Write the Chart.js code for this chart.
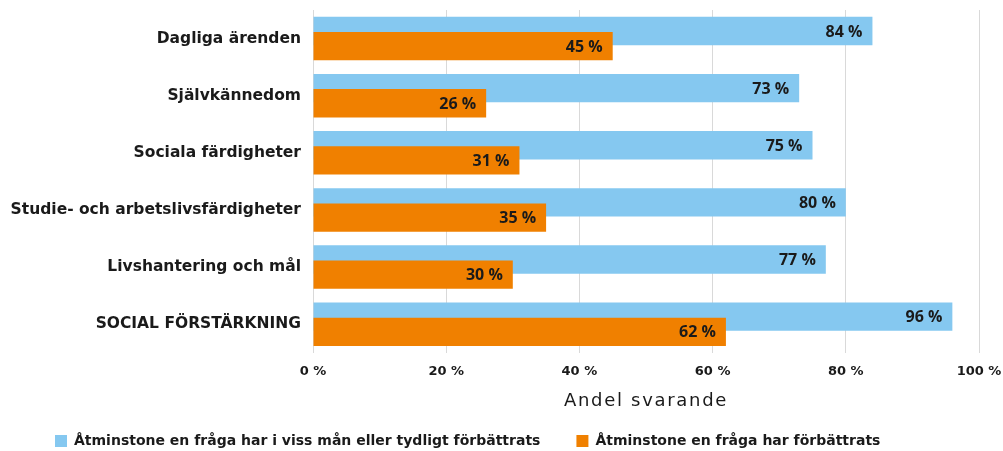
<!DOCTYPE html>
<html lang="sv">
<head>
    <meta charset="UTF-8">
    <title>Andel svarande</title>
    <script src="https://cdn.jsdelivr.net/npm/chart.js"></script>
    <style>
        html, body { margin: 0; padding: 0; background: #fff; }
        .chart-box { width: 1003px; height: 451px; position: relative; }
    </style>
</head>
<body>
    <div class="chart-box">
        <canvas id="improvementChart"></canvas>
    </div>

    <script>
        const categories = [
            'Dagliga ärenden',
            'Självkännedom',
            'Sociala färdigheter',
            'Studie- och arbetslivsfärdigheter',
            'Livshantering och mål',
            'SOCIAL FÖRSTÄRKNING'
        ];
        const someImprovement = [84, 73, 75, 80, 77, 96];
        const clearImprovement = [45, 26, 31, 35, 30, 62];
        const xTicks = [0, 20, 40, 60, 80, 100];
        const seriesNames = [
            'Åtminstone en fråga har i viss mån eller tydligt förbättrats',
            'Åtminstone en fråga har förbättrats'
        ];

        const labelFont = '"DejaVu Sans", sans-serif';

        // orange bars go over the blue ones, then the value labels
        const overlapAndLabels = {
            id: 'overlapAndLabels',
            beforeDraw(chart) {
                // spaced-out axis title
                const xScale = chart.scales.x;
                if (xScale && !xScale._spaced) {
                    const orig = xScale.drawTitle.bind(xScale);
                    xScale.drawTitle = function () {
                        this.ctx.save();
                        this.ctx.letterSpacing = '1.7px';
                        orig();
                        this.ctx.restore();
                    };
                    xScale._spaced = true;
                }
            },
            afterLayout(chart) {
                // legend starts a bit further in than the axis labels
                if (chart.legend) chart.legend.left = 19;
            },
            beforeDatasetDraw(chart, args) {
                if (args.index === 1) return false;
            },
            afterDatasetsDraw(chart) {
                const ctx = chart.ctx;
                const orange = chart.getDatasetMeta(1);
                if (orange.visible) orange.controller.draw();

                ctx.save();
                ctx.font = 'bold 16px "Open Sans", sans-serif';
                ctx.fillStyle = '#1a1a1a';
                ctx.textAlign = 'right';
                ctx.textBaseline = 'middle';
                chart.data.datasets.forEach((ds, i) => {
                    const meta = chart.getDatasetMeta(i);
                    if (!meta.visible) return;
                    meta.data.forEach((bar, j) => {
                        ctx.fillText(ds.data[j] + ' %', bar.x - 10, bar.y + 1);
                    });
                });
                ctx.restore();
            }
        };

        const ctx = document.getElementById('improvementChart').getContext('2d');
        new Chart(ctx, {
            type: 'bar',
            data: {
                labels: categories,
                datasets: [
                    {
                        label: seriesNames[0],
                        data: someImprovement,
                        backgroundColor: '#85c8f0',
                        categoryPercentage: 0.53,
                        barPercentage: 1.87
                    },
                    {
                        label: seriesNames[1],
                        data: clearImprovement,
                        backgroundColor: '#f08000',
                        categoryPercentage: 0.53,
                        barPercentage: 1.87
                    }
                ]
            },
            options: {
                indexAxis: 'y',
                responsive: true,
                maintainAspectRatio: false,
                animation: false,
                layout: { padding: { top: 10, left: 4, right: 0, bottom: -7 } },
                plugins: {
                    legend: {
                        position: 'bottom',
                        align: 'start',
                        labels: {
                            boxWidth: 12,
                            boxHeight: 12,
                            padding: 36,
                            color: '#1a1a1a',
                            font: { family: labelFont, size: 14, weight: 'bold' }
                        }
                    },
                    tooltip: { enabled: false }
                },
                scales: {
                    x: {
                        min: 0,
                        max: 100,
                        afterBuildTicks: (scale) => {
                            scale.ticks = xTicks.map(v => ({ value: v }));
                        },
                        afterFit: (scale) => { scale.paddingRight = 24; },
                        grid: { color: '#d9d9d9', drawTicks: false },
                        border: { display: false },
                        ticks: {
                            padding: 11,
                            color: '#1a1a1a',
                            font: { family: labelFont, size: 13, weight: 'bold' },
                            callback: (v) => v + ' %'
                        },
                        title: {
                            display: true,
                            text: 'Andel svarande',
                            color: '#1a1a1a',
                            padding: { top: 0, bottom: -14 },
                            font: { family: labelFont, size: 18 }
                        }
                    },
                    y: {
                        afterFit: (scale) => {
                            scale.width = 309;
                            scale.paddingTop = 0;
                            scale.paddingBottom = 0;
                        },
                        grid: { display: false, drawTicks: false },
                        border: { display: false },
                        ticks: {
                            padding: 12,
                            color: '#1a1a1a',
                            font: { family: labelFont, size: 15.5, weight: 'bold' }
                        }
                    }
                }
            },
            plugins: [overlapAndLabels]
        });
    </script>
</body>
</html>
